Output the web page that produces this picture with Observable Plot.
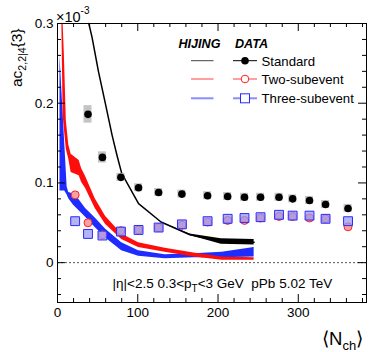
<!DOCTYPE html>
<html><head><meta charset="utf-8">
<script src="https://cdn.jsdelivr.net/npm/d3@7"></script>
<script src="https://cdn.jsdelivr.net/npm/@observablehq/plot@0.6"></script>
<style>body{margin:0;background:#fff}svg{display:block}</style>
</head><body><div id="chart"></div>
<script>
// ---- data (values in units of 1e-3) ----
const nStd = [38, 56, 79, 101, 126, 155, 187, 212, 233, 253, 276, 293, 314, 334, 362];
const vStd = [0.186, 0.132, 0.107, 0.094, 0.088, 0.086, 0.084, 0.083, 0.082, 0.082, 0.082, 0.080, 0.078, 0.073, 0.068];
const sysStd = [0.011, 0.007, 0.005, 0.005, 0.005, 0.005, 0.005, 0.005, 0.005, 0.005, 0.005, 0.005, 0.005, 0.005, 0.005];
const nSub = [22, 38, 56, 79, 101, 126, 155, 187, 212, 233, 253, 276, 293, 314, 334, 362];
const vTwo = [0.085, 0.050, 0.035, 0.040, 0.041, 0.044, 0.047, 0.051, 0.053, 0.053, 0.056, 0.058, 0.058, 0.056, 0.055, 0.045];
const vThree = [0.052, 0.036, 0.034, 0.039, 0.041, 0.044, 0.048, 0.052, 0.055, 0.056, 0.057, 0.060, 0.059, 0.059, 0.055, 0.052];

// HIJING bands
const hijStdN  = [39, 43, 51, 60, 68, 74, 80, 101, 129, 165, 204, 245];
const hijStdLo = [0.300, 0.283, 0.240, 0.198, 0.160, 0.135, 0.112, 0.074, 0.051, 0.034, 0.023, 0.022];
const hijStdHi = [0.300, 0.283, 0.240, 0.198, 0.160, 0.135, 0.112, 0.074, 0.051, 0.036, 0.030, 0.029];
const hijTwoN  = [5.5, 7, 8.5, 11, 14, 17, 27, 30, 35, 47, 60, 80, 101, 134, 170, 205, 245];
const hijTwoLo = [0.296, 0.185, 0.168, 0.142, 0.130, 0.113, 0.109, 0.101, 0.093, 0.068, 0.048, 0.029, 0.019, 0.013, 0.007, 0.003, 0.003];
const hijTwoHi = [0.300, 0.300, 0.262, 0.178, 0.148, 0.136, 0.128, 0.118, 0.108, 0.080, 0.058, 0.036, 0.025, 0.018, 0.012, 0.007, 0.006];
const hijThreeN  = [3.1, 9, 12, 14, 20, 26, 35, 47, 60, 80, 101, 134, 170, 205, 245];
const hijThreeLo = [0.090, 0.090, 0.085, 0.080, 0.072, 0.066, 0.057, 0.044, 0.031, 0.015, 0.008, 0.005, 0.006, 0.006, 0.007];
const hijThreeHi = [0.260, 0.150, 0.095, 0.088, 0.086, 0.080, 0.068, 0.056, 0.042, 0.025, 0.015, 0.010, 0.011, 0.013, 0.019];

const xTicks = [0, 100, 200, 300];
const yTicks = [0, 0.1, 0.2, 0.3];

// ---- build tables ----
const std = nStd.map((n, i) => ({n, v: vStd[i], s: sysStd[i]}));
const two = nSub.map((n, i) => ({n, v: vTwo[i]}));
const three = nSub.map((n, i) => ({n, v: vThree[i]}));
const band = (N, lo, hi) => N.map((n, i) => ({n, lo: lo[i], hi: hi[i], mid: (lo[i] + hi[i]) / 2}));
const bStd = band(hijStdN, hijStdLo, hijStdHi);
const bTwo = band(hijTwoN, hijTwoLo, hijTwoHi);
const bThree = band(hijThreeN, hijThreeLo, hijThreeHi);

const W = 374, H = 352, mL = 57, mR = 8, mT = 23, mB = 50;
const iw = W - mL - mR, ih = H - mT - mB;
const xDom = [0, 385], yDom = [-0.05, 0.3];
const xMinor = d3.range(0, 385, 20).filter(d => !xTicks.includes(d));
const yMinor = d3.range(-0.04, 0.3, 0.02).map(d => +d.toFixed(2)).filter(d => !yTicks.includes(d));
const boxHalf = 4 * (xDom[1] - xDom[0]) / iw; // 4 px

const font = "'Liberation Sans', Arial, Helvetica, sans-serif";
const chart = Plot.plot({
  width: W, height: H, marginLeft: mL, marginRight: mR, marginTop: mT, marginBottom: mB,
  x: {domain: xDom, axis: null},
  y: {domain: yDom, axis: null},
  style: {background: "white", fontFamily: font},
  marks: [
    Plot.ruleY([0], {stroke: "#555", strokeWidth: 1, strokeDasharray: "2,2"}),
    // HIJING bands
    Plot.areaY(bThree, {x: "n", y1: "lo", y2: "hi", fill: "#1f2cff"}),
    Plot.areaY(bTwo, {x: "n", y1: "lo", y2: "hi", fill: "#ff0d0d"}),
    Plot.areaY(bStd, {x: "n", y1: "lo", y2: "hi", fill: "#000"}),
    Plot.line(bStd, {x: "n", y: "mid", stroke: "#000", strokeWidth: 1.5}),
    // Standard data: sys boxes + points
    Plot.rect(std, {x1: d => d.n - boxHalf, x2: d => d.n + boxHalf, y1: d => d.v - d.s, y2: d => d.v + d.s, fill: "#c4c4c4"}),
    Plot.dot(std, {x: "n", y: "v", r: 3.8, fill: "#000", stroke: "none"}),
    // Two-subevent
    Plot.dot(two, {x: "n", y: "v", r: 4, fill: "#f7a2a2", stroke: "#ff2020", strokeWidth: 1}),
    // Three-subevent
    Plot.dot(three, {x: "n", y: "v", symbol: "square", r: 5, fill: "#9a9af2", fillOpacity: 0.75, stroke: "#2a2aff", strokeWidth: 1}),
    // frame and ticks (inward, all sides)
    Plot.frame({stroke: "#000", strokeWidth: 1}),
    Plot.ruleX(xTicks, {insetTop: ih - 8, stroke: "#000"}),
    Plot.ruleX(xMinor, {insetTop: ih - 4, stroke: "#000"}),
    Plot.ruleX(xTicks, {insetBottom: ih - 8, stroke: "#000"}),
    Plot.ruleX(xMinor, {insetBottom: ih - 4, stroke: "#000"}),
    Plot.ruleY(yTicks, {insetRight: iw - 8, stroke: "#000"}),
    Plot.ruleY(yMinor, {insetRight: iw - 4, stroke: "#000"}),
    Plot.ruleY(yTicks, {insetLeft: iw - 8, stroke: "#000"}),
    Plot.ruleY(yMinor, {insetLeft: iw - 4, stroke: "#000"}),
    // tick labels
    Plot.text(yTicks, {x: xDom[0], y: d => d, text: d => d === 0 ? "0" : d.toFixed(1), textAnchor: "end", dx: -4, fontSize: 13.5, fill: "#000"}),
    Plot.text(xTicks, {x: d => d, y: yDom[0], text: d => String(d), dy: 10, fontSize: 13.5, fill: "#000"})
  ]
});
document.getElementById("chart").appendChild(chart);

// ---- extra texts (titles, annotation, legend) ----
const svg = d3.select(chart);
function rich(sel, x, y, parts, size) {
  const t = sel.append("text").attr("x", x).attr("y", y).attr("font-family", font)
    .attr("font-size", size).attr("fill", "#000").attr("text-anchor", "start").style("white-space", "pre");
  let shift = 0;
  for (const [s, o] of parts) {
    const ts = t.append("tspan").text(s);
    const target = (o && o.dy) || 0;
    ts.attr("dy", target - shift); shift = target;
    if (o && o.size) ts.attr("font-size", o.size);
  }
  return t;
}
// y title
const gy = svg.append("g").attr("transform", "translate(22,87) rotate(-90)");
rich(gy, 0, 0, [["ac"], ["2,2|4", {dy: 3.5, size: 10.5}], ["{3}", {dy: 0}]], 15.5);
// x10^-3
rich(svg, 56, 21.5, [["×10"], ["-3", {dy: -7.5, size: 10}]], 14.5);
// x title
rich(svg, 322, 345, [["⟨N"], ["ch", {dy: 5, size: 13}], ["⟩", {dy: 0}]], 18.5);
// annotation
rich(svg, 112.5, 288, [["|η|<2.5 0.3<p"], ["T", {dy: 3.5, size: 10}], ["<3 GeV  pPb 5.02 TeV", {dy: 0}]], 13.5);

// legend
const leg = svg.append("g").attr("text-anchor", "start").attr("font-family", font);
leg.append("text").attr("x", 178.5).attr("y", 48.3).attr("font-size", 12.6)
  .attr("font-weight", "bold").attr("font-style", "italic").text("HIJING");
leg.append("text").attr("x", 235).attr("y", 48.3).attr("font-size", 12.6)
  .attr("font-weight", "bold").attr("font-style", "italic").text("DATA");
const legRows = [
  {label: "Standard", y: 60.7, hij: "#444", hw: 1, dat: "#000", dw: 1},
  {label: "Two-subevent", y: 79, hij: "#ff4040", hw: 1, dat: "#ff4040", dw: 1},
  {label: "Three-subevent", y: 98.3, hij: "#8c8cff", hw: 2, dat: "#8c8cff", dw: 2}
];
legRows.forEach((r, i) => {
  leg.append("line").attr("x1", 191).attr("x2", 213.5).attr("y1", r.y).attr("y2", r.y).attr("stroke", r.hij).attr("stroke-width", r.hw);
  leg.append("line").attr("x1", 233).attr("x2", 257).attr("y1", r.y).attr("y2", r.y).attr("stroke", r.dat).attr("stroke-width", r.dw);
  if (i === 0) leg.append("circle").attr("cx", 245).attr("cy", r.y).attr("r", 3.8).attr("fill", "#000");
  if (i === 1) leg.append("circle").attr("cx", 245).attr("cy", r.y).attr("r", 3.8).attr("fill", "#fff").attr("stroke", "#ff2020");
  if (i === 2) leg.append("rect").attr("x", 240.5).attr("y", r.y - 4.5).attr("width", 9).attr("height", 9).attr("fill", "#fff").attr("stroke", "#2a2aff");
  leg.append("text").attr("x", 261.5).attr("y", r.y + 4.8).attr("font-size", 13.2).text(r.label);
});
</script>
</body></html>
